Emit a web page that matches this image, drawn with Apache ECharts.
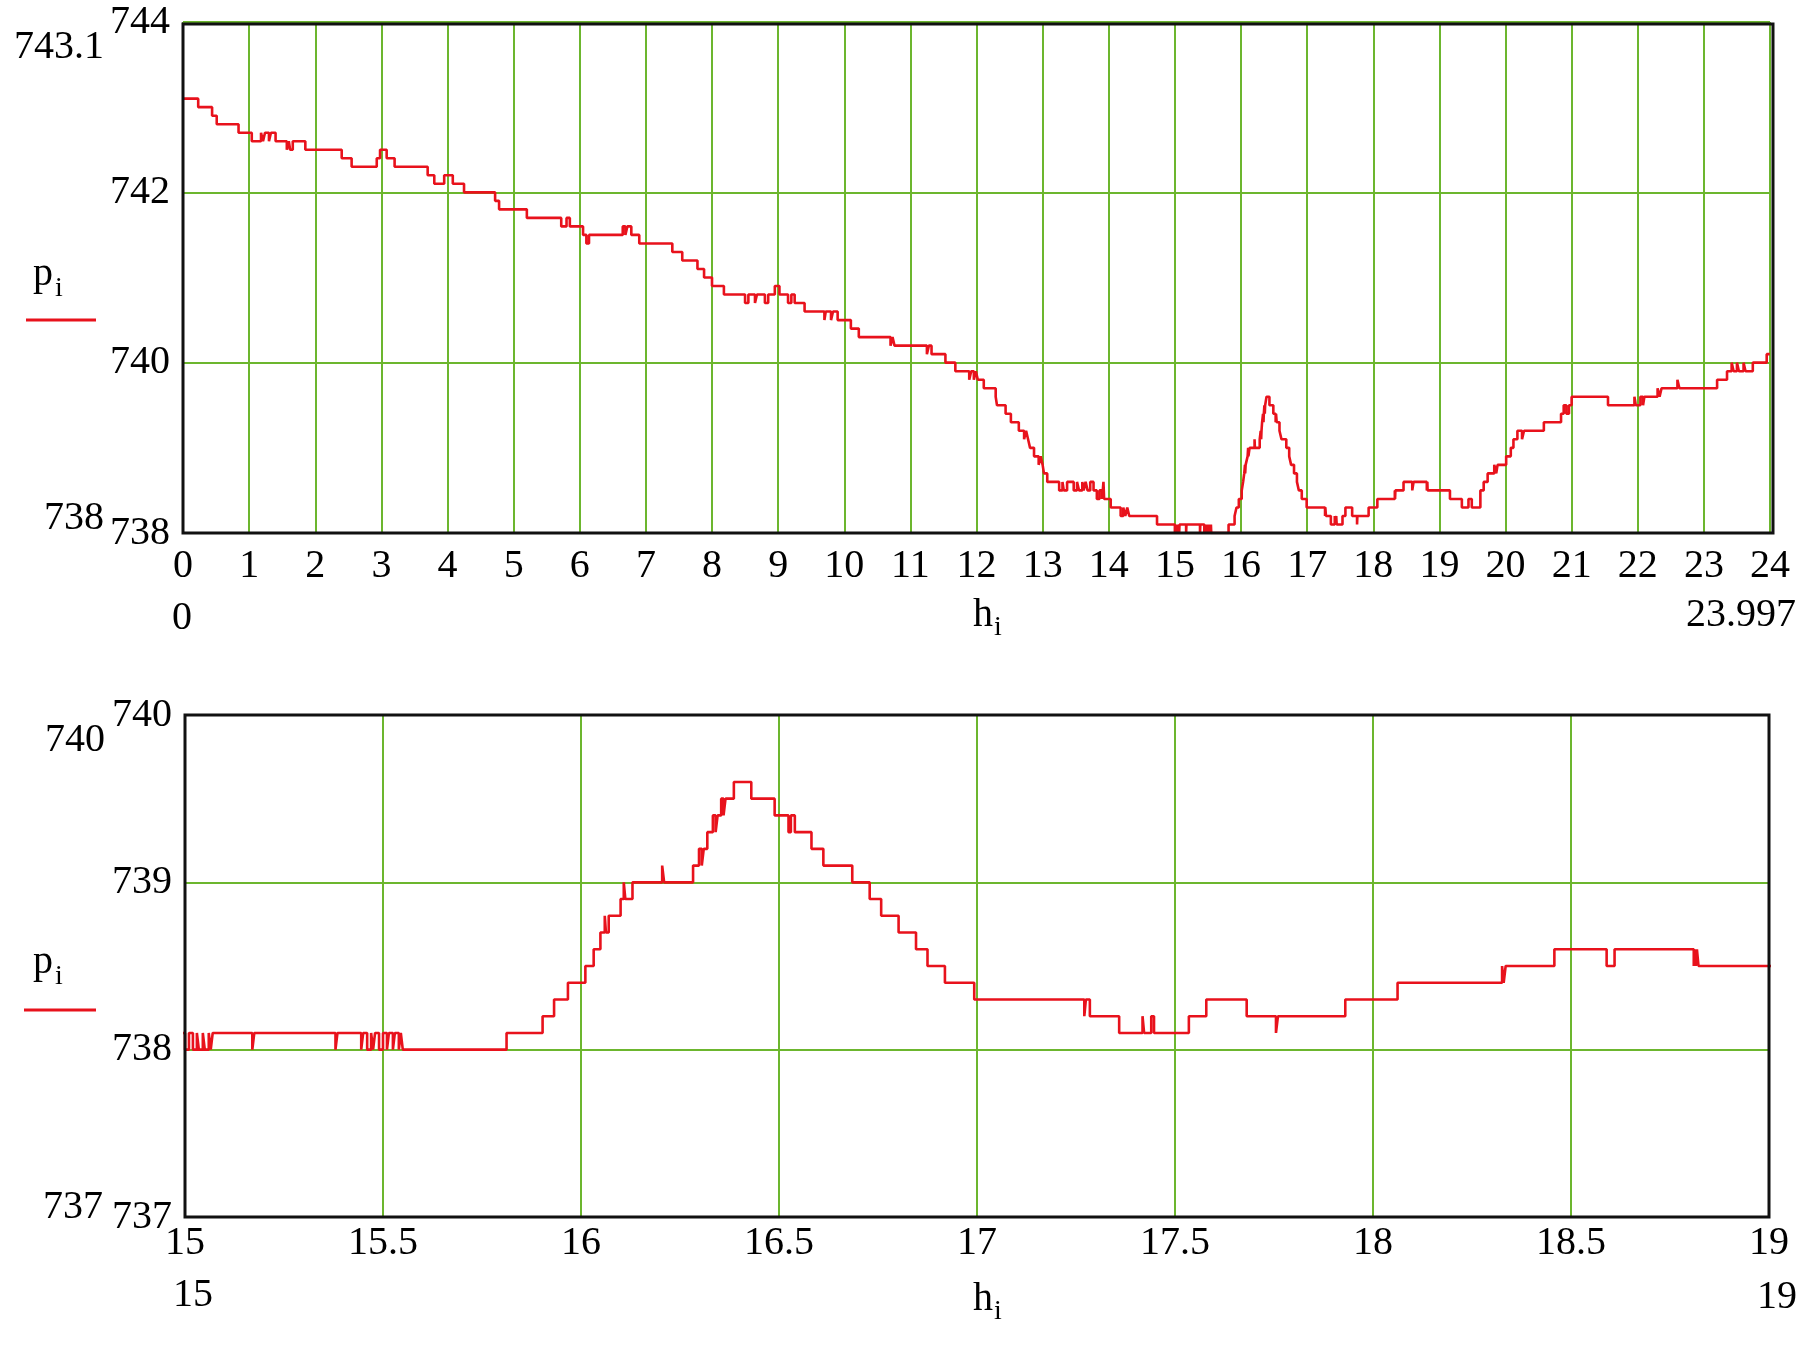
<!DOCTYPE html>
<html>
<head>
<meta charset="utf-8">
<script src="https://cdn.jsdelivr.net/npm/echarts@6/dist/echarts.min.js"></script>
<style>
  html, body { margin: 0; padding: 0; background: #fff; }
  #chart { width: 1820px; height: 1366px; }
</style>
</head>
<body>
<div id="chart"></div>
<script>
// h_i : hour of each change point, p_i : pressure value held from that hour on
const hours = [
  0.00, 0.23, 0.44, 0.51, 0.84, 1.04, 1.18, 1.21, 1.24, 1.30, 1.33, 1.40, 1.57, 1.60, 1.62, 1.66, 1.85,
  2.40, 2.55, 2.93, 2.98, 3.08, 3.20, 3.70, 3.80, 3.95, 4.08, 4.25, 4.72, 4.78, 5.20, 5.72, 5.80, 5.85,
  6.05, 6.10, 6.14, 6.65, 6.69, 6.72, 6.78, 6.90, 7.40, 7.55, 7.78, 7.88, 8.00, 8.18, 8.50, 8.55, 8.65,
  8.68, 8.80, 8.85, 8.95, 9.02, 9.15, 9.20, 9.25, 9.40, 9.70, 9.72, 9.80, 9.83, 9.90, 10.10, 10.22,
  10.70, 10.73, 10.76, 11.25, 11.28, 11.32, 11.53, 11.68, 11.89, 11.92, 11.96, 11.99, 12.02, 12.11,
  12.29, 12.31, 12.44, 12.52, 12.64, 12.72, 12.75, 12.78, 12.81, 12.87, 12.94, 12.97, 13.00, 13.02,
  13.07, 13.25, 13.30, 13.32, 13.37, 13.47, 13.52, 13.55, 13.60, 13.62, 13.65, 13.68, 13.72, 13.77,
  13.82, 13.86, 13.90, 13.92, 13.93, 14.03, 14.18, 14.22, 14.25, 14.28, 14.31, 14.73,
  15.000, 15.010, 15.020, 15.030, 15.035, 15.045, 15.050, 15.060, 15.065, 15.070, 15.170, 15.175,
  15.380, 15.385, 15.445, 15.450, 15.460, 15.470, 15.475, 15.480, 15.490, 15.500, 15.510, 15.515,
  15.525, 15.530, 15.540, 15.545, 15.550, 15.812, 15.903, 15.932, 15.967, 16.011, 16.032, 16.049,
  16.060, 16.063, 16.070, 16.100, 16.108, 16.112, 16.130, 16.205, 16.210, 16.283, 16.298, 16.305,
  16.310, 16.319, 16.333, 16.340, 16.345, 16.354, 16.360, 16.365, 16.386, 16.430, 16.489, 16.524,
  16.530, 16.540, 16.582, 16.612, 16.685, 16.729, 16.758, 16.802, 16.846, 16.875, 16.919, 16.993,
  17.271, 17.275, 17.285, 17.359, 17.418, 17.422, 17.440, 17.447, 17.535, 17.579, 17.681, 17.755,
  17.760, 17.930, 18.062, 18.326, 18.330, 18.335, 18.458, 18.590, 18.610, 18.810, 18.812, 18.815,
  18.818, 18.822,
  19.16, 19.34, 19.44, 19.49, 19.62, 19.67, 19.73, 19.83, 19.86, 19.88, 20.01, 20.08, 20.12, 20.18,
  20.25, 20.28, 20.58, 20.84, 20.88, 20.92, 20.96, 21.00, 21.55, 21.95, 21.97, 22.00, 22.04, 22.08,
  22.10, 22.30, 22.33, 22.36, 22.60, 22.63, 23.20, 23.35, 23.42, 23.45, 23.50, 23.53, 23.60, 23.63,
  23.74, 23.95, 23.997
];
const pressure = [
  743.1, 743.0, 742.9, 742.8, 742.7, 742.6, 742.7, 742.6, 742.7, 742.6, 742.7, 742.6, 742.5, 742.6, 742.5, 742.6, 742.5,
  742.4, 742.3, 742.4, 742.5, 742.4, 742.3, 742.2, 742.1, 742.2, 742.1, 742.0, 741.9, 741.8, 741.7, 741.6, 741.7, 741.6,
  741.5, 741.4, 741.5, 741.6, 741.5, 741.6, 741.5, 741.4, 741.3, 741.2, 741.1, 741.0, 740.9, 740.8, 740.7, 740.8, 740.7,
  740.8, 740.7, 740.8, 740.9, 740.8, 740.7, 740.8, 740.7, 740.6, 740.5, 740.6, 740.5, 740.6, 740.5, 740.4, 740.3,
  740.2, 740.3, 740.2, 740.1, 740.2, 740.1, 740.0, 739.9, 739.8, 739.9, 739.8, 739.9, 739.8, 739.7,
  739.6, 739.5, 739.4, 739.3, 739.2, 739.1, 739.2, 739.1, 739.0, 738.9, 738.8, 738.9, 738.8, 738.7,
  738.6, 738.5, 738.6, 738.5, 738.6, 738.5, 738.6, 738.5, 738.6, 738.5, 738.6, 738.5, 738.6, 738.5,
  738.4, 738.5, 738.4, 738.6, 738.4, 738.3, 738.2, 738.3, 738.2, 738.3, 738.2, 738.1,
  738.0, 738.1, 738.0, 738.1, 738.0, 738.1, 738.0, 738.1, 738.0, 738.1, 738.0, 738.1,
  738.0, 738.1, 738.0, 738.1, 738.0, 738.1, 738.0, 738.1, 738.0, 738.1, 738.0, 738.1,
  738.0, 738.1, 738.0, 738.1, 738.0, 738.1, 738.2, 738.3, 738.4, 738.5, 738.6, 738.7,
  738.8, 738.7, 738.8, 738.9, 739.0, 738.9, 739.0, 739.1, 739.0, 739.1, 739.2, 739.1,
  739.2, 739.3, 739.4, 739.3, 739.4, 739.5, 739.4, 739.5, 739.6, 739.5, 739.4, 739.3,
  739.4, 739.3, 739.2, 739.1, 739.0, 738.9, 738.8, 738.7, 738.6, 738.5, 738.4, 738.3,
  738.2, 738.3, 738.2, 738.1, 738.2, 738.1, 738.2, 738.1, 738.2, 738.3, 738.2, 738.1,
  738.2, 738.3, 738.4, 738.5, 738.4, 738.5, 738.6, 738.5, 738.6, 738.5, 738.6, 738.5,
  738.6, 738.5,
  738.4, 738.3, 738.4, 738.3, 738.5, 738.6, 738.7, 738.8, 738.7, 738.8, 738.9, 739.0, 739.1, 739.2,
  739.1, 739.2, 739.3, 739.4, 739.5, 739.4, 739.5, 739.6, 739.5, 739.6, 739.5, 739.5, 739.6, 739.5,
  739.6, 739.7, 739.6, 739.7, 739.8, 739.7, 739.8, 739.9, 740.0, 739.9, 740.0, 739.9, 740.0, 739.9,
  740.0, 740.1, 740.1
];

const topXTicks = { min: 0, max: 24, interval: 1 };
const topYTicks = { min: 738, max: 744, interval: 2 };
const botXTicks = { min: 15, max: 19, interval: 0.5 };
const botYTicks = { min: 737, max: 740, interval: 1 };

const points = hours.map((h, i) => [h, pressure[i]]);

const FONT = 'Liberation Serif, Times New Roman, serif';
const GREEN = '#6cb62e';
const RED = '#e8121c';

function txt(text, x, y, align, size) {
  return {
    type: 'text', z: 100,
    style: {
      text: text, x: x, y: y,
      font: (size || 40) + 'px ' + FONT,
      fill: '#000',
      align: align, verticalAlign: 'middle',
      textAlign: align, textVerticalAlign: 'middle'
    }
  };
}

const axisCommonX = (grid, t, margin) => ({
  type: 'value', gridIndex: grid, min: t.min, max: t.max, interval: t.interval,
  axisLine: { show: false }, axisTick: { show: false },
  axisLabel: { color: '#000', fontSize: 40, fontFamily: FONT, margin: margin, showMinLabel: true, showMaxLabel: true },
  splitLine: { show: true, lineStyle: { color: GREEN, width: 2 } }
});
const axisCommonY = (grid, t) => ({
  type: 'value', gridIndex: grid, min: t.min, max: t.max, interval: t.interval,
  axisLine: { show: false }, axisTick: { show: false },
  axisLabel: { color: '#000', fontSize: 40, fontFamily: FONT, margin: 13, showMinLabel: true, showMaxLabel: true },
  splitLine: { show: true, lineStyle: { color: GREEN, width: 2 } }
});

const graphics = [
  // top chart outer labels
  txt('743.1', 104, 47, 'right'),
  txt('738', 104, 518, 'right'),
  txt('0', 182, 618, 'center'),
  txt('23.997', 1796, 615, 'right'),
  txt('h', 983, 615, 'center'),
  txt('i', 998, 628, 'center', 28),
  txt('p', 43, 274, 'center'),
  txt('i', 59, 289, 'center', 28),
  { type: 'line', z: 100, shape: { x1: 26, y1: 320, x2: 96, y2: 320 }, style: { stroke: RED, lineWidth: 3 } },
  // bottom chart outer labels
  txt('740', 105, 740, 'right'),
  txt('737', 103, 1207, 'right'),
  txt('15', 193, 1295, 'center'),
  txt('19', 1777, 1297, 'center'),
  txt('h', 983, 1299, 'center'),
  txt('i', 998, 1312, 'center', 28),
  txt('p', 43, 962, 'center'),
  txt('i', 59, 977, 'center', 28),
  { type: 'line', z: 100, shape: { x1: 24, y1: 1010, x2: 96, y2: 1010 }, style: { stroke: RED, lineWidth: 3 } }
];

const chart = echarts.init(document.getElementById('chart'), null, { renderer: 'canvas' });
const option = {
  animation: false,
  backgroundColor: '#fff',
  grid: [
    { left: 183, top: 22, right: 50, height: 511, show: false },
    { left: 185, top: 715, right: 51, height: 502, show: false }
  ],
  xAxis: [axisCommonX(0, topXTicks, 13), axisCommonX(1, botXTicks, 6)],
  yAxis: [axisCommonY(0, topYTicks), axisCommonY(1, botYTicks)],
  series: [
    { type: 'line', xAxisIndex: 0, yAxisIndex: 0, data: points, step: 'end', showSymbol: false, symbol: 'none',
      lineStyle: { color: RED, width: 2.6 }, z: 5 },
    { type: 'line', xAxisIndex: 1, yAxisIndex: 1, data: points, step: 'end', showSymbol: false, symbol: 'none',
      lineStyle: { color: RED, width: 2.6 }, z: 5 }
  ],
  graphic: graphics
};
chart.setOption(option);

// black plot frames drawn on top, placed from the axis scales
function frame(gridIdx, xt, yt, dx, dy) {
  const a = chart.convertToPixel({ gridIndex: gridIdx }, [xt.min, yt.max]);
  const b = chart.convertToPixel({ gridIndex: gridIdx }, [xt.max, yt.min]);
  return { type: 'rect', z: 90, silent: true,
    shape: { x: a[0], y: a[1] + dy, width: b[0] - a[0] + dx, height: b[1] - a[1] - dy },
    style: { fill: 'none', stroke: '#111', lineWidth: 3 } };
}
chart.setOption({ graphic: graphics.concat([
  frame(0, topXTicks, topYTicks, 3, 2),
  frame(1, botXTicks, botYTicks, 0, 0)
]) });
</script>
</body>
</html>
